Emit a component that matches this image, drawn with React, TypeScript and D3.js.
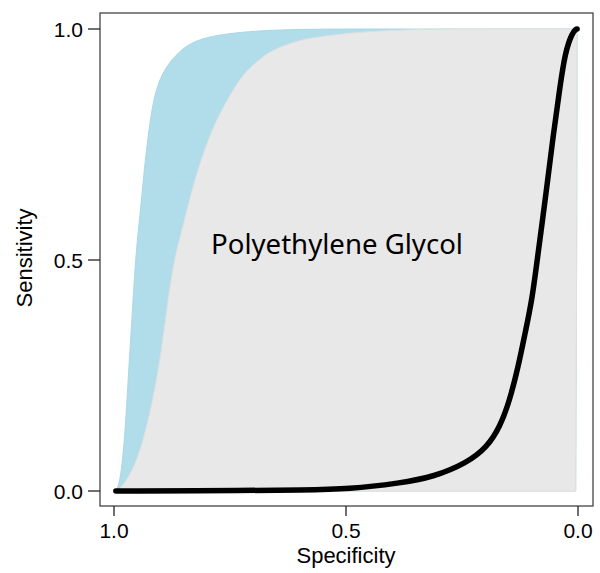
import React from "react";
import * as d3 from "d3";

// Outer (upper) confidence bound of the ROC curve
const outerSpec = [1.0, 0.994, 0.985, 0.976, 0.97, 0.961, 0.953, 0.942, 0.933, 0.922, 0.912, 0.894, 0.858, 0.815, 0.728, 0.614, 0.4, 0.2, 0.002];
const outerSens = [0.0, 0.0, 0.03, 0.126, 0.234, 0.377, 0.515, 0.615, 0.716, 0.803, 0.861, 0.911, 0.955, 0.981, 0.994, 1.0, 1.0, 1.0, 1.0];

// Inner confidence bound (edge of grey region)
const innerSpec = [1.0, 0.994, 0.983, 0.959, 0.938, 0.916, 0.897, 0.884, 0.869, 0.859, 0.836, 0.815, 0.787, 0.756, 0.722, 0.67, 0.642, 0.599, 0.571, 0.498, 0.427, 0.319, 0.15, 0.002];
const innerSens = [0.0, 0.0, 0.009, 0.045, 0.104, 0.197, 0.305, 0.413, 0.506, 0.543, 0.636, 0.71, 0.788, 0.846, 0.905, 0.948, 0.961, 0.976, 0.981, 0.991, 0.996, 1.0, 1.0, 1.0];

// Lower bound (bottom / right edge)
const lowerSpec = [0.002, 0.003, 0.005, 0.5, 0.994, 1.0];
const lowerSens = [1.0, 0.5, 0.0, 0.0, 0.0, 0.0];

// ROC curve
const rocSpec = [0.996, 0.707, 0.599, 0.491, 0.384, 0.3125, 0.239, 0.196, 0.168, 0.147, 0.129, 0.114, 0.099, 0.086, 0.067, 0.054, 0.039, 0.028, 0.013, 0.004, 0.002];
const rocSens = [0.0, 0.001, 0.002, 0.004, 0.017, 0.03, 0.061, 0.095, 0.139, 0.197, 0.268, 0.342, 0.413, 0.515, 0.658, 0.766, 0.874, 0.948, 0.991, 1.0, 1.0];

const xTicks = [1.0, 0.5, 0.0];
const yTicks = [0.0, 0.5, 1.0];
const label = "Polyethylene Glycol";

const W = 600;
const H = 573;

export default function App() {
  const x = d3.scaleLinear().domain([1, 0]).range([114, 578]);
  const y = d3.scaleLinear().domain([0, 1]).range([491, 29]);

  const pts = (s: number[], v: number[]) => s.map((d, i) => [x(d), y(v[i])] as [number, number]);
  const smooth = d3.line().curve(d3.curveBasis);
  const lin = d3.line();

  const outer = pts(outerSpec, outerSens);
  const inner = pts(innerSpec, innerSens);
  const lower = pts(lowerSpec, lowerSens);

  const blueD = smooth(outer) + " " + lin(lower)!.replace("M", "L") + "Z";
  const greyD = smooth(inner) + " " + lin(lower)!.replace("M", "L") + "Z";
  const rocD = smooth(pts(rocSpec, rocSens));

  const box = { x0: 100, x1: 593, y0: 13, y1: 506 };
  const font = "Liberation Sans, Arial, sans-serif";

  return (
    <svg width={W} height={H} style={{ position: "absolute", left: 0, top: 0 }}>
      <rect x={0} y={0} width={W} height={H} fill="#fff" />
      <path d={blueD!} fill="#b1dcea" stroke="#a9d8e8" strokeWidth={1} />
      <path d={greyD!} fill="#e8e8e8" stroke="#e0e0e0" strokeWidth={1} />
      <path d={rocD!} fill="none" stroke="#000" strokeWidth={5.5} strokeLinecap="round" strokeLinejoin="round" />
      <rect x={box.x0} y={box.y0} width={box.x1 - box.x0} height={box.y1 - box.y0} fill="none" stroke="#444" strokeWidth={1.3} />
      {yTicks.map((t) => (
        <g key={"y" + t}>
          <line x1={88} x2={box.x0} y1={y(t)} y2={y(t)} stroke="#222" strokeWidth={1.3} />
          <text x={83} y={y(t)} dy="0.36em" textAnchor="end" fontFamily={font} fontSize={21} fill="#000">
            {t.toFixed(1)}
          </text>
        </g>
      ))}
      {xTicks.map((t) => (
        <g key={"x" + t}>
          <line x1={x(t)} x2={x(t)} y1={box.y1} y2={516} stroke="#222" strokeWidth={1.3} />
          <text x={x(t)} y={538} textAnchor="middle" fontFamily={font} fontSize={21} fill="#000">
            {t.toFixed(1)}
          </text>
        </g>
      ))}
      <text x={346} y={563} textAnchor="middle" fontFamily={font} fontSize={22} fill="#000">
        Specificity
      </text>
      <text transform="translate(32,258) rotate(-90)" textAnchor="middle" fontFamily={font} fontSize={22} fill="#000">
        Sensitivity
      </text>
      <text x={211} y={254} textLength={252} lengthAdjust="spacingAndGlyphs" fontFamily="Noto Sans, Open Sans, sans-serif" fontSize={28} fill="#000">
        {label}
      </text>
    </svg>
  );
}
